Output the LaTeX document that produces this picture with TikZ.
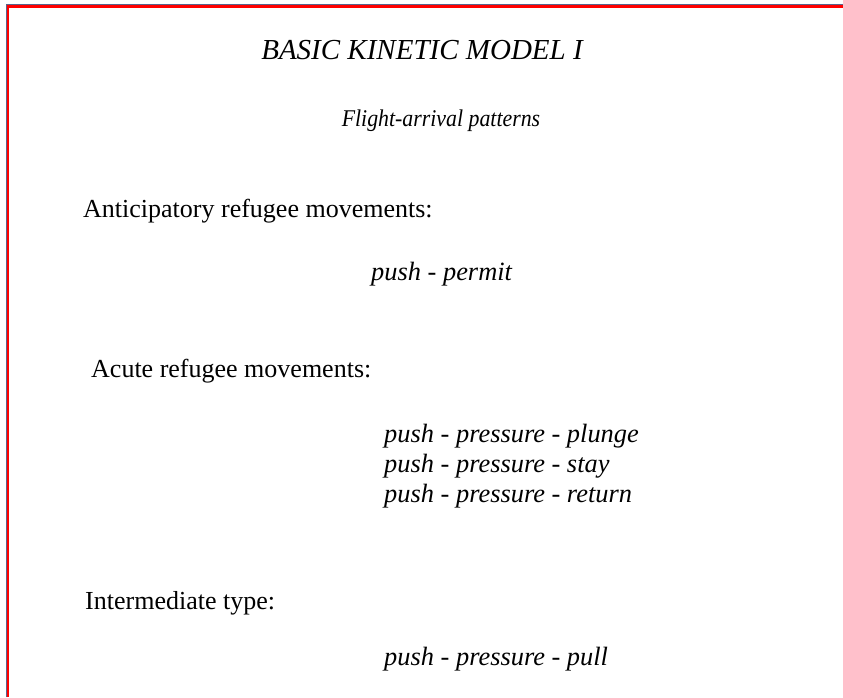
\documentclass[tikz,border=0pt]{standalone}
\usepackage{fontspec}
\setmainfont{Liberation Serif}
\definecolor{frame}{RGB}{255,0,0}
\definecolor{frameedge}{RGB}{90,100,140}
\begin{document}
\begin{tikzpicture}[x=1pt,y=-1pt,
  heading/.style={inner sep=0pt,anchor=base,font=\fontsize{29}{32}\selectfont\itshape},
  subheading/.style={inner sep=0pt,anchor=base,font=\fontsize{24}{28}\selectfont\itshape},
  category/.style={inner sep=0pt,anchor=base west,font=\fontsize{26}{30}\selectfont},
  pattern/.style={inner sep=0pt,anchor=base west,font=\fontsize{26.4}{30}\selectfont\itshape}]
\useasboundingbox (0,0) rectangle (843,697);
\fill[white] (0,0) rectangle (843,697);
% frame
\draw[frameedge,line width=0.8pt] (6,697) -- (6,4.6) -- (843,4.6);
\draw[frame,line width=2.6pt] (7.9,697) -- (7.9,6.5) -- (843,6.5);
% texts
\node[heading] (title) at (422,59) {BASIC KINETIC MODEL I};
\node[subheading] (sub) at (441,126) {\scalebox{0.91}[1]{Flight-arrival patterns}};
\node[category] (ant) at (83,217) {Anticipatory refugee movements:};
\node[pattern] (p1) at (371,280) {push - permit};
\node[category] (acu) at (91,377) {Acute refugee movements:};
\node[pattern] (p2) at (384,442) {push - pressure - plunge};
\node[pattern] (p3) at (384,472) {push - pressure - stay};
\node[pattern] (p4) at (384,502) {push - pressure - return};
\node[category] (int) at (85,609) {Intermediate type:};
\node[pattern] (p5) at (384,665) {push - pressure - pull};
\end{tikzpicture}
\end{document}
